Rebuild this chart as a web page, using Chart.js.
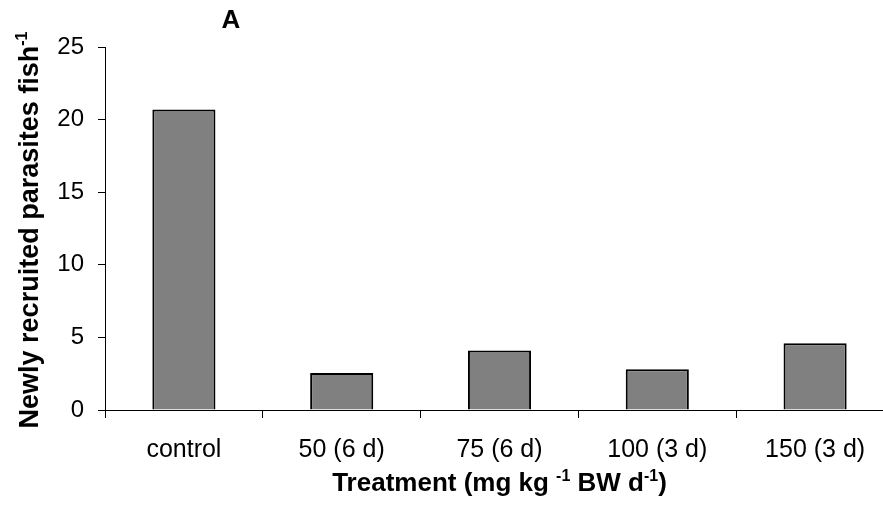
<!DOCTYPE html>
<html>
<head>
<meta charset="utf-8">
<script src="https://cdn.jsdelivr.net/npm/chart.js@4.4.0/dist/chart.umd.min.js"></script>
<style>
  html, body { margin: 0; padding: 0; overflow: hidden; background: #fff; }
  canvas { display: block; }
</style>
</head>
<body>
<canvas id="c" width="900" height="525"></canvas>
<script>
// ---- data ----
const categories = ['control', '50 (6 d)', '75 (6 d)', '100 (3 d)', '150 (3 d)'];
const recruited = [20.7, 2.55, 4.1, 2.8, 4.6];
const yMin = 0, yMax = 25, yStep = 5;
const panelLabel = 'A';
const xTitleParts = [['Treatment (mg kg ', false], ['-1', true], [' BW d', false], ['-1', true], [')', false]];
const yTitleParts = [['Newly recruited parasites fish', false], ['-1', true]];

const FONT = '"Liberation Sans", Arial, sans-serif';

function drawParts(ctx, parts, cx, baseline, size, supSize, supRaise) {
  const mainFont = 'bold ' + size + 'px ' + FONT;
  const supFont = 'bold ' + supSize + 'px ' + FONT;
  let total = 0;
  const widths = parts.map(([t, sup]) => {
    ctx.font = sup ? supFont : mainFont;
    const w = ctx.measureText(t).width;
    total += w;
    return w;
  });
  let x = cx - total / 2;
  ctx.textAlign = 'left';
  ctx.textBaseline = 'alphabetic';
  parts.forEach(([t, sup], i) => {
    ctx.font = sup ? supFont : mainFont;
    ctx.fillText(t, x, sup ? baseline - supRaise : baseline);
    x += widths[i];
  });
}

const titlesPlugin = {
  id: 'titles',
  afterDraw(chart) {
    const ctx = chart.ctx;
    const area = chart.chartArea;
    ctx.save();
    ctx.fillStyle = '#000';
    // x-axis title
    drawParts(ctx, xTitleParts, (area.left + area.right) / 2, 491, 26, 16, 10);
    // y-axis title (rotated)
    ctx.save();
    ctx.translate(38, 230);
    ctx.rotate(-Math.PI / 2);
    drawParts(ctx, yTitleParts, 0, 0, 27, 16, 11);
    ctx.restore();
    // panel label
    ctx.font = 'bold 26px ' + FONT;
    ctx.textAlign = 'center';
    ctx.textBaseline = 'alphabetic';
    ctx.fillText(panelLabel, 231, 28);
    ctx.restore();
  }
};

new Chart(document.getElementById('c'), {
  type: 'bar',
  data: {
    labels: categories,
    datasets: [{
      data: recruited,
      backgroundColor: '#808080',
      borderColor: '#000',
      borderWidth: 2,
      barPercentage: 0.4,
      categoryPercentage: 1.0
    }]
  },
  options: {
    responsive: false,
    animation: false,
    devicePixelRatio: 1,
    layout: { padding: { top: 47, right: 6, left: 0, bottom: 0 } },
    plugins: { legend: { display: false }, tooltip: { enabled: false }, title: { display: false } },
    scales: {
      x: {
        offset: true,
        grid: { display: true, offset: true, drawOnChartArea: false, drawTicks: true, tickLength: 8, color: '#000', lineWidth: 1 },
        border: { display: true, color: '#000', width: 1 },
        ticks: { color: '#000', font: { family: FONT, size: 25 }, padding: 17, maxRotation: 0, autoSkip: false },
        afterFit(scale) { scale.height = 115; }
      },
      y: {
        min: yMin, max: yMax,
        grid: { display: true, drawOnChartArea: false, drawTicks: true, tickLength: 7, color: '#000', lineWidth: 1 },
        border: { display: true, color: '#000', width: 1 },
        ticks: { stepSize: yStep, color: '#000', font: { family: FONT, size: 24 }, padding: 14 },
        afterFit(scale) { scale.width = 105; }
      }
    }
  },
  plugins: [titlesPlugin]
});
</script>
</body>
</html>
